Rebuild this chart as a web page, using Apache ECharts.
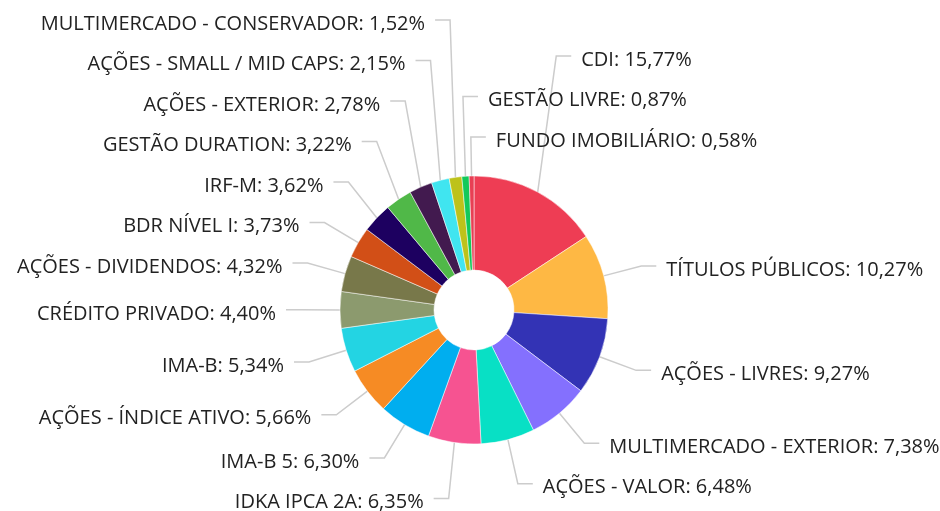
<!DOCTYPE html>
<html>
<head>
<meta charset="utf-8">
<script src="https://cdn.jsdelivr.net/npm/echarts@6/dist/echarts.min.js"></script>
<style>
  html, body { margin: 0; padding: 0; background: #fff; }
  #chart { width: 940px; height: 511px; }
</style>
</head>
<body>
<div id="chart"></div>
<script>
const categories = [
  'CDI', 'TÍTULOS PÚBLICOS', 'AÇÕES - LIVRES', 'MULTIMERCADO - EXTERIOR',
  'AÇÕES - VALOR', 'IDKA IPCA 2A', 'IMA-B 5', 'AÇÕES - ÍNDICE ATIVO',
  'IMA-B', 'CRÉDITO PRIVADO', 'AÇÕES - DIVIDENDOS', 'BDR NÍVEL I',
  'IRF-M', 'GESTÃO DURATION', 'AÇÕES - EXTERIOR', 'AÇÕES - SMALL / MID CAPS',
  'MULTIMERCADO - CONSERVADOR', 'GESTÃO LIVRE', 'FUNDO IMOBILIÁRIO'
]
const shares = [
  15.77, 10.27, 9.27, 7.38,
  6.48, 6.35, 6.30, 5.66,
  5.34, 4.40, 4.32, 3.73,
  3.62, 3.22, 2.78, 2.15,
  1.52, 0.87, 0.58
]
const colors = [
  '#ee3d54', '#feb844', '#3333b5', '#8470fe',
  '#08e0c5', '#f65391', '#00aeef', '#f68b24',
  '#23d4e3', '#8c9a6e', '#78784a', '#d24f17',
  '#1d0060', '#50b848', '#421a4f', '#40e5f0',
  '#bdc21a', '#12c95a', '#e83f54'
]

// pie geometry
const CX = 474, CY = 310, R_IN = 40, R_OUT = 134
// label lines
const LINE_LEN = 39, LINE_LEN2 = 15, TEXT_GAP = 10, TEXT_DY = 4
const LABEL_H = 40.5
// slices just left of the top still get their label on the right
const SIDE_TOL = 0.1

// where each slice's label goes (same angles the pie uses)
const total = shares.reduce((a, b) => a + b, 0)
let acc = 0
const spots = shares.map((v, i) => {
  const theta = (acc + v / 2) / total * Math.PI * 2
  acc += v
  const s = Math.sin(theta)
  const c = Math.cos(theta)
  const right = s > -SIDE_TOL
  return {
    right: right,
    wrapped: right && s < 0,
    fromTop: Math.min(theta, Math.PI * 2 - theta),
    rim: [CX + R_OUT * s, CY - R_OUT * c],
    ex: CX + (R_OUT + LINE_LEN) * s,
    ey: CY - (R_OUT + LINE_LEN) * c
  }
})

// push overlapping labels away from the middle, one side at a time
function stackSide(items) {
  const order = items.slice().sort((a, b) => {
    const ka = a.wrapped ? a.fromTop - 10 : Math.abs(a.ey - CY)
    const kb = b.wrapped ? b.fromTop - 10 : Math.abs(b.ey - CY)
    return ka - kb
  })
  const placed = []
  order.forEach(it => {
    const dir = it.ey < CY ? -1 : 1
    let y = it.ey
    let moved = true
    while (moved) {
      moved = false
      placed.forEach(p => {
        if (Math.abs(y - p.y) < LABEL_H - 0.01) {
          y = p.y + dir * LABEL_H
          moved = true
        }
      })
    }
    it.y = y
    placed.push(it)
  })
}
stackSide(spots.filter(s => s.right))
stackSide(spots.filter(s => !s.right))

const chart = echarts.init(document.getElementById('chart'))

chart.setOption({
  animation: false,
  color: colors,
  series: [{
    type: 'pie',
    center: [CX, CY],
    radius: [R_IN, R_OUT],
    startAngle: 90,
    clockwise: true,
    avoidLabelOverlap: false,
    itemStyle: {
      borderColor: '#fff',
      borderWidth: 0.5
    },
    label: {
      fontFamily: 'Open Sans',
      fontSize: 20,
      color: '#222',
      width: 420,
      overflow: 'none',
      formatter: p => p.name + ': ' + p.value.toFixed(2).replace('.', ',') + '%'
    },
    labelLine: {
      length: LINE_LEN,
      length2: LINE_LEN2,
      lineStyle: {
        color: '#ccc',
        width: 1.5
      }
    },
    labelLayout: params => {
      const it = spots[params.dataIndex]
      const dirX = it.right ? 1 : -1
      const x3 = it.ex + dirX * LINE_LEN2
      return {
        x: x3 + dirX * TEXT_GAP,
        y: it.y + TEXT_DY,
        align: it.right ? 'left' : 'right',
        verticalAlign: 'middle',
        hideOverlap: false,
        labelLinePoints: [it.rim, [it.ex, it.y], [x3, it.y]]
      }
    },
    data: categories.map((name, i) => ({ name: name, value: shares[i] }))
  }]
})
</script>
</body>
</html>
